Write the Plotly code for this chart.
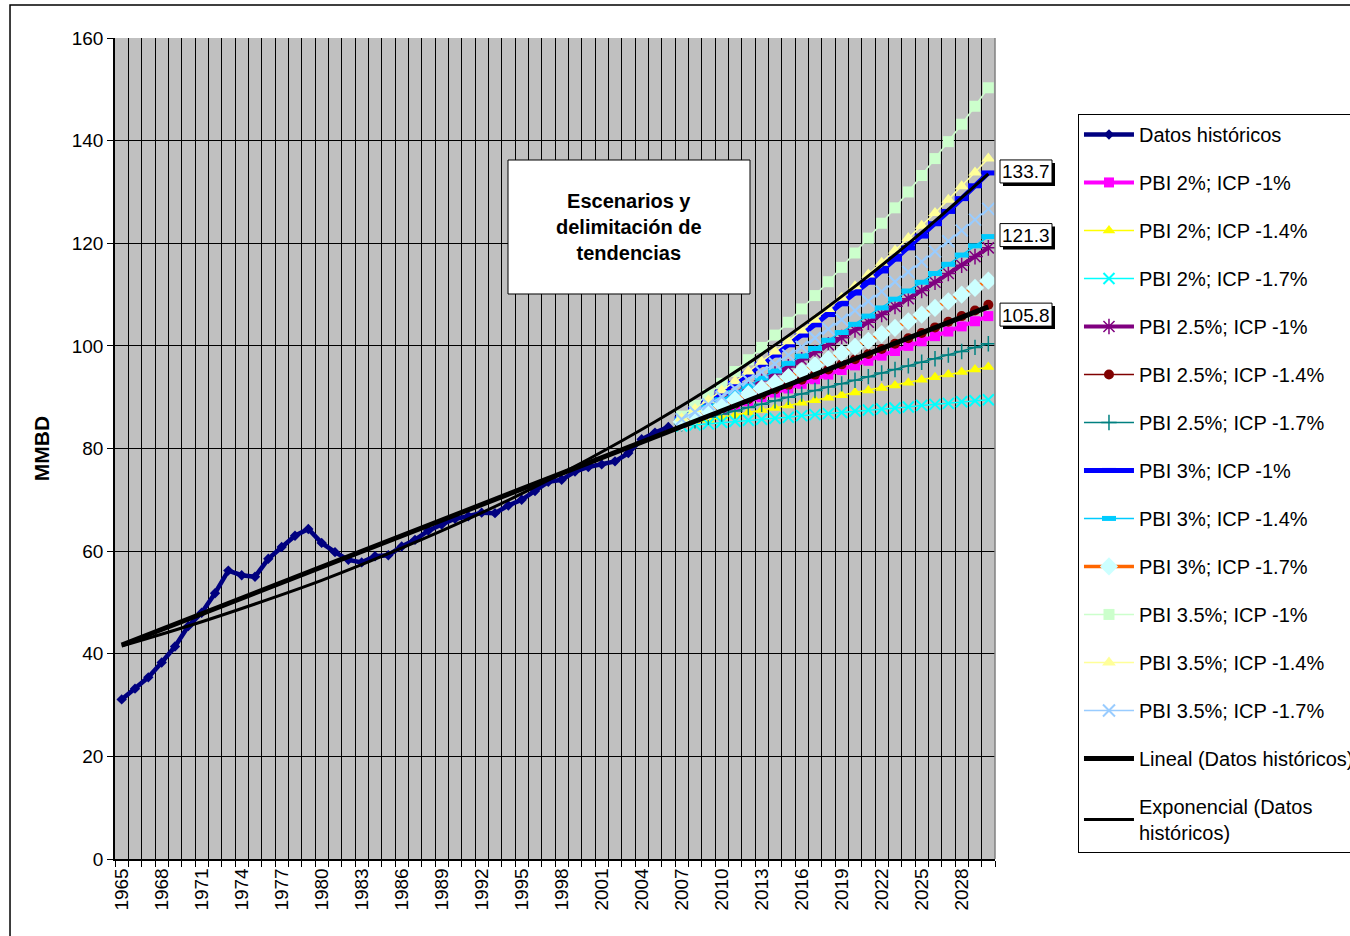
import plotly.graph_objects as go

# ── Data ─────────────────────────────────────────────────────
hist_years = list(range(1965, 2007))
hist_mmbd = [31.1, 33.2, 35.4, 38.3, 41.4, 45.4, 48.0, 51.8, 56.2, 55.3,
             55.0, 58.5, 60.8, 63.0, 64.3, 61.6, 59.8, 58.3, 57.8, 59.0,
             59.2, 60.9, 62.2, 64.0, 65.2, 66.3, 66.8, 67.5, 67.4, 68.9,
             70.0, 71.7, 73.5, 73.9, 75.5, 76.4, 76.9, 77.5, 79.1, 81.8,
             83.1, 84.2]

proj_years = list(range(2007, 2031))
pbi2_icp10 = [85.0, 85.8, 86.6, 87.5, 88.3, 89.2, 90.0, 90.9, 91.7, 92.6, 93.5, 94.4,
              95.3, 96.2, 97.1, 98.1, 99.0, 100.0, 100.9, 101.9, 102.8, 103.8, 104.8, 105.8]
pbi2_icp14 = [84.7, 85.1, 85.6, 86.1, 86.5, 87.0, 87.5, 87.9, 88.4, 88.9, 89.4, 89.9,
              90.4, 90.9, 91.3, 91.8, 92.3, 92.8, 93.4, 93.9, 94.4, 94.9, 95.4, 95.9]
pbi2_icp17 = [84.4, 84.6, 84.8, 85.1, 85.3, 85.5, 85.7, 85.9, 86.1, 86.4, 86.6, 86.8,
              87.0, 87.3, 87.5, 87.7, 87.9, 88.1, 88.4, 88.6, 88.8, 89.1, 89.3, 89.5]
pbi25_icp10 = [85.4, 86.7, 87.9, 89.2, 90.5, 91.8, 93.2, 94.5, 95.9, 97.3, 98.7, 100.2,
               101.6, 103.1, 104.6, 106.1, 107.7, 109.2, 110.8, 112.4, 114.1, 115.7, 117.4, 119.1]
pbi25_icp14 = [85.1, 86.0, 86.9, 87.8, 88.7, 89.6, 90.5, 91.5, 92.4, 93.4, 94.4, 95.4,
               96.4, 97.4, 98.4, 99.4, 100.4, 101.5, 102.5, 103.6, 104.7, 105.8, 106.9, 108.0]
pbi25_icp17 = [84.8, 85.4, 86.1, 86.7, 87.3, 88.0, 88.6, 89.3, 90.0, 90.6, 91.3, 92.0,
               92.6, 93.3, 94.0, 94.7, 95.4, 96.1, 96.8, 97.5, 98.2, 98.9, 99.7, 100.4]
pbi3_icp10 = [85.8, 87.5, 89.2, 91.0, 92.7, 94.5, 96.4, 98.2, 100.2, 102.1, 104.1, 106.1,
              108.2, 110.3, 112.4, 114.6, 116.9, 119.1, 121.4, 123.8, 126.2, 128.7, 131.2, 133.7]
pbi3_icp14 = [85.5, 86.8, 88.1, 89.5, 90.9, 92.2, 93.7, 95.1, 96.6, 98.0, 99.5, 101.1,
              102.6, 104.2, 105.8, 107.4, 109.1, 110.7, 112.4, 114.1, 115.9, 117.7, 119.5, 121.3]
pbi3_icp17 = [85.2, 86.3, 87.3, 88.4, 89.5, 90.6, 91.7, 92.8, 93.9, 95.1, 96.2, 97.4,
              98.6, 99.8, 101.0, 102.3, 103.5, 104.8, 106.1, 107.4, 108.7, 110.0, 111.3, 112.7]
pbi35_icp10 = [86.3, 88.4, 90.5, 92.7, 95.0, 97.3, 99.7, 102.1, 104.6, 107.2, 109.8, 112.5,
               115.3, 118.1, 121.0, 123.9, 126.9, 130.0, 133.2, 136.5, 139.8, 143.2, 146.7, 150.3]
pbi35_icp14 = [85.9, 87.7, 89.4, 91.3, 93.1, 95.0, 96.9, 98.9, 100.9, 103.0, 105.1, 107.2,
               109.4, 111.6, 113.9, 116.2, 118.6, 121.0, 123.4, 125.9, 128.5, 131.1, 133.8, 136.5]
pbi35_icp17 = [85.7, 87.1, 88.6, 90.1, 91.7, 93.3, 94.9, 96.5, 98.2, 99.8, 101.6, 103.3,
               105.1, 106.9, 108.7, 110.6, 112.5, 114.4, 116.4, 118.4, 120.4, 122.5, 124.6, 126.7]

lin_years = [1965, 2030]
lin_trend = [41.7, 107.6]
exp_years = [1965, 1970, 1975, 1980, 1985, 1990, 1995, 2000, 2005, 2010, 2015, 2020, 2025, 2030]
exp_trend = [41.5, 45.4, 49.7, 54.3, 59.5, 65.1, 71.2, 77.9, 85.2, 93.2, 102.0, 111.6, 122.1, 133.5]

tick_years = [1965, 1968, 1971, 1974, 1977, 1980, 1983, 1986, 1989, 1992, 1995,
              1998, 2001, 2004, 2007, 2010, 2013, 2016, 2019, 2022, 2025, 2028]
label_values = [133.7, 121.3, 105.8]

FONT = "Liberation Sans, Arial, sans-serif"
FS = 19

# (name, values, line colour, line width, marker symbol, marker size, marker colour, marker line width)
scenarios = [
    ("PBI 2%; ICP -1%", pbi2_icp10, "#FF00FF", 4, "square", 10, "#FF00FF", 0),
    ("PBI 2%; ICP -1.4%", pbi2_icp14, "#FFFF00", 1.5, "triangle-up", 11, "#FFFF00", 0),
    ("PBI 2%; ICP -1.7%", pbi2_icp17, "#00FFFF", 1.5, "x-thin-open", 11, "#00FFFF", 2),
    ("PBI 2.5%; ICP -1%", pbi25_icp10, "#800080", 4, "asterisk-open", 13, "#800080", 1.5),
    ("PBI 2.5%; ICP -1.4%", pbi25_icp14, "#800000", 1.5, "circle", 10, "#800000", 0),
    ("PBI 2.5%; ICP -1.7%", pbi25_icp17, "#008080", 1.5, "cross-thin-open", 11, "#008080", 1.5),
    ("PBI 3%; ICP -1%", pbi3_icp10, "#0000FF", 5, "line-ew-open", 10, "#0000FF", 5),
    ("PBI 3%; ICP -1.4%", pbi3_icp14, "#00CCFF", 1.5, "line-ew-open", 10, "#00CCFF", 5),
    ("PBI 3%; ICP -1.7%", pbi3_icp17, "#FF6600", 3.5, "diamond", 14, "#CCFFFF", 0),
    ("PBI 3.5%; ICP -1%", pbi35_icp10, "#CCFFCC", 1.5, "square", 11, "#CCFFCC", 0),
    ("PBI 3.5%; ICP -1.4%", pbi35_icp14, "#FFFF99", 1.5, "triangle-up", 12, "#FFFF99", 0),
    ("PBI 3.5%; ICP -1.7%", pbi35_icp17, "#99CCFF", 1.5, "x-thin-open", 12, "#99CCFF", 2),
]

fig = go.Figure()

fig.add_trace(go.Scatter(
    x=hist_years, y=hist_mmbd, mode="lines+markers", name="Datos históricos",
    legendgroup="g0",
    line=dict(color="#000080", width=4.5),
    marker=dict(symbol="diamond", size=8, color="#000080"),
))

for i, (name, vals, lc, lw, sym, ms, mc, mlw) in enumerate(scenarios, start=1):
    marker = dict(symbol=sym, size=ms, color=mc)
    if mlw:
        marker["line"] = dict(color=mc, width=mlw)
    fig.add_trace(go.Scatter(
        x=proj_years, y=vals, mode="lines+markers", name=name,
        legendgroup=f"g{i}",
        line=dict(color=lc, width=lw),
        marker=marker,
    ))

# trendlines
fig.add_trace(go.Scatter(
    x=lin_years, y=lin_trend, mode="lines", name="Lineal (Datos históricos)",
    legendgroup="g13", line=dict(color="black", width=5),
))
fig.add_trace(go.Scatter(
    x=exp_years, y=exp_trend, mode="lines", name="Exponencial (Datos<br>históricos)",
    legendgroup="g14", line=dict(color="black", width=3, shape="spline"),
))

# data labels next to the last point: shadow + white box + text
for v in label_values:
    fig.add_shape(type="rect", xref="paper", yref="y",
                  xsizemode="pixel", ysizemode="pixel", xanchor=1, yanchor=v,
                  x0=8, x1=60, y0=-13, y1=10,
                  line=dict(width=0), fillcolor="black", layer="above")
    fig.add_shape(type="rect", xref="paper", yref="y",
                  xsizemode="pixel", ysizemode="pixel", xanchor=1, yanchor=v,
                  x0=5, x1=57, y0=-10, y1=13,
                  line=dict(color="black", width=1), fillcolor="white", layer="above")
    fig.add_annotation(
        x=1, y=v, xref="paper", yref="y", text=f"{v:.1f}", showarrow=False,
        xanchor="center", yanchor="middle", xshift=31, yshift=1,
        font=dict(family=FONT, size=FS, color="black"),
    )

# text box
fig.add_shape(type="rect", xref="paper", yref="paper",
              x0=0.4466, x1=0.7216, y0=0.6882, y1=0.8514,
              line=dict(color="black", width=1), fillcolor="white", layer="above")
fig.add_annotation(
    xref="paper", yref="paper", x=0.584, y=0.7698, showarrow=False,
    xanchor="center", yanchor="middle",
    text="<b>Escenarios y<br>delimitación de<br>tendencias</b>",
    font=dict(family=FONT, size=20, color="black"), align="center",
)

# chart area frame and right edge of plot area
fig.add_shape(type="rect", xref="paper", yref="paper",
              x0=-0.1193, x1=2, y0=-1, y1=1.0402,
              line=dict(color="black", width=1.5), fillcolor="rgba(0,0,0,0)")
fig.add_shape(type="line", xref="paper", yref="paper", x0=1, x1=1, y0=0, y1=1,
              line=dict(color="#808080", width=1.5))

fig.update_layout(
    width=1350, height=936,
    margin=dict(l=115, r=355, t=38, b=77, autoexpand=False),
    paper_bgcolor="white", plot_bgcolor="#C0C0C0",
    font=dict(family=FONT, size=FS, color="black"),
    showlegend=True,
    legend=dict(
        x=1.0943, y=0.9075, xanchor="left", yanchor="top",
        bgcolor="white", bordercolor="black", borderwidth=1,
        font=dict(family=FONT, size=20, color="black"),
        tracegroupgap=19, itemwidth=50,
    ),
    xaxis=dict(
        range=[1964.5, 2030.5], tickmode="array", tickvals=tick_years,
        ticktext=[str(y) for y in tick_years], tickangle=-90,
        showgrid=False, ticks="", zeroline=False,
        showline=True, linecolor="black", linewidth=1.5,
        minor=dict(tick0=1964.5, dtick=1, ticks="outside", ticklen=6,
                   tickcolor="black", showgrid=True, gridcolor="black", gridwidth=1),
        tickfont=dict(family=FONT, size=FS),
    ),
    yaxis=dict(
        range=[0, 160], dtick=20, tick0=0,
        showgrid=True, gridcolor="black", gridwidth=1, zeroline=False,
        showline=True, linecolor="black", linewidth=1.5,
        ticks="outside", ticklen=6, tickcolor="black",
        tickfont=dict(family=FONT, size=FS),
        title=dict(text="<b>MMBD</b>", font=dict(family=FONT, size=21), standoff=16),
    ),
)

fig.write_html("out.html", config={"displayModeBar": False},
               post_script="document.body.style.margin='0';")
